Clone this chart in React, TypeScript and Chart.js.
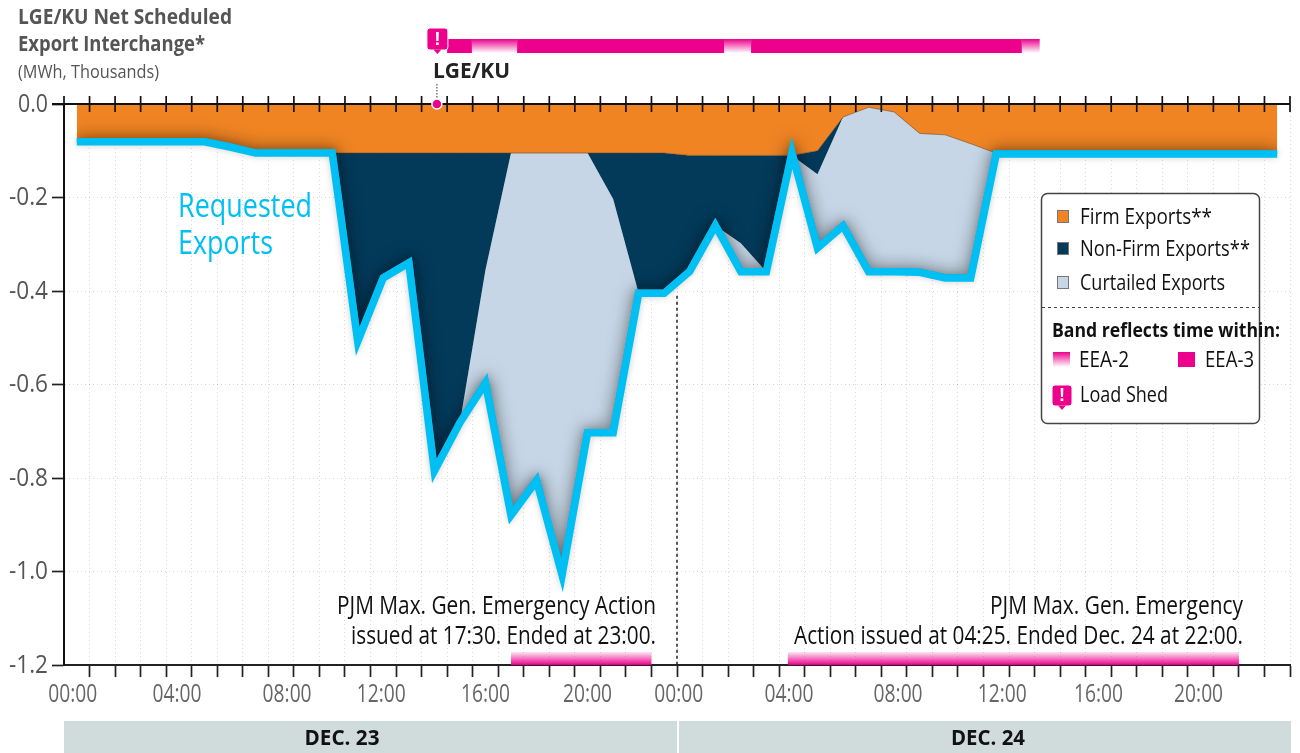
import React, { useEffect, useRef } from "react";
import { Chart, registerables } from "chart.js";

Chart.register(...registerables);

const FONT = '"Open Sans", "Noto Sans", sans-serif';

const hours = [
  "00:00","01:00","02:00","03:00","04:00","05:00","06:00","07:00","08:00","09:00","10:00","11:00",
  "12:00","13:00","14:00","15:00","16:00","17:00","18:00","19:00","20:00","21:00","22:00","23:00",
];
const categories = [...hours, ...hours];

const requestedExports = [
  -0.081,-0.081,-0.081,-0.081,-0.081,-0.081,-0.092,-0.105,-0.105,-0.105,-0.105,-0.508,
  -0.372,-0.34,-0.785,-0.682,-0.597,-0.88,-0.806,-1.008,-0.703,-0.703,-0.405,-0.405,
  -0.358,-0.26,-0.359,-0.359,-0.105,-0.308,-0.261,-0.359,-0.359,-0.36,-0.372,-0.372,
  -0.107,-0.107,-0.107,-0.107,-0.107,-0.107,-0.107,-0.107,-0.107,-0.107,-0.107,-0.107,
];
const firmExports = [
  -0.081,-0.081,-0.081,-0.081,-0.081,-0.081,-0.092,-0.105,-0.105,-0.105,-0.105,-0.105,
  -0.105,-0.105,-0.105,-0.105,-0.105,-0.105,-0.105,-0.105,-0.105,-0.105,-0.105,-0.105,
  -0.11,-0.11,-0.11,-0.11,-0.11,-0.1,-0.028,-0.007,-0.017,-0.063,-0.066,-0.085,
  -0.105,-0.105,-0.105,-0.105,-0.105,-0.105,-0.105,-0.105,-0.105,-0.105,-0.105,-0.105,
];
const nonFirmExports = [
  0,0,0,0,0,0,0,0,0,0,0,-0.403,
  -0.267,-0.235,-0.68,-0.577,-0.25,0,0,0,0,-0.098,-0.3,-0.3,
  -0.248,-0.15,-0.188,-0.249,0,-0.05,0,0,0,0,0,0,
  0,0,0,0,0,0,0,0,0,0,0,0,
];
const curtailedExports = [
  0,0,0,0,0,0,0,0,0,0,0,0,
  0,0,0,0,-0.242,-0.775,-0.701,-0.903,-0.598,-0.5,0,0,
  0,0,-0.061,0,0,-0.158,-0.233,-0.352,-0.342,-0.297,-0.306,-0.287,
  0,0,0,0,0,0,0,0,0,0,0,0,
];

// Hours since 00:00 Dec. 23 on the band / marker time line
const eea3Bands = [[15.0, 15.97], [17.74, 25.84], [26.9, 37.5]];
const eea2Bands = [[15.97, 17.74], [25.84, 26.9], [37.5, 38.2]];
const pjmBands = [[17.5, 23], [28.34, 46]];
const loadShedHour = 14.6;

const ORANGE = "#f08423";
const NAVY = "#033a5a";
const CURTAILED = "rgba(190,208,226,0.88)";
const BLUE = "#00bff3";
const PINK = "#ec008c";

const nudges: Record<number, number> = { 0: -4, 4: -2, 8: 6, 12: -2, 16: 0, 20: 0, 24: -11, 28: -3, 32: 4, 36: 6, 40: 0, 44: -2 };

function text(ctx: any, s: string, x: number, y: number, font: string, color: string, width: number, align: any = "left") {
  ctx.save();
  ctx.font = font;
  ctx.fillStyle = color;
  ctx.textAlign = align;
  ctx.textBaseline = "middle";
  const k = width / ctx.measureText(s).width;
  ctx.translate(x, y + 1.5);
  ctx.scale(k, 1);
  ctx.fillText(s, 0, 0);
  ctx.restore();
}

function shedIcon(ctx: any, x: number, y: number, w: number, h: number) {
  ctx.save();
  ctx.fillStyle = PINK;
  ctx.strokeStyle = "#fff";
  ctx.lineWidth = 1;
  ctx.beginPath();
  ctx.roundRect(x, y, w, h - 4, 3);
  ctx.fill();
  ctx.stroke();
  ctx.beginPath();
  ctx.moveTo(x + w / 2 - 4, y + h - 4.5);
  ctx.lineTo(x + w / 2, y + h);
  ctx.lineTo(x + w / 2 + 4, y + h - 4.5);
  ctx.closePath();
  ctx.fill();
  ctx.restore();
  ctx.save();
  ctx.font = `900 ${h - 7}px "Liberation Sans", sans-serif`;
  ctx.fillStyle = "#fff";
  ctx.textAlign = "center";
  ctx.textBaseline = "middle";
  ctx.fillText("!", x + w / 2, y + (h - 4) / 2 + 0.5);
  ctx.restore();
}

const shadowPlugin = {
  id: "shadow",
  beforeDatasetDraw(chart: any, args: any) {
    if (args.index !== 3) return;
    const { ctx, chartArea } = chart;
    const pts = chart.getDatasetMeta(3).data;
    ctx.save();
    ctx.beginPath();
    ctx.moveTo(pts[0].x, chartArea.top);
    pts.forEach((p: any) => ctx.lineTo(p.x, p.y));
    ctx.lineTo(pts[pts.length - 1].x, chartArea.top);
    ctx.closePath();
    ctx.clip();
    ctx.shadowColor = "rgba(0,0,0,0.6)";
    ctx.shadowBlur = 17;
    ctx.strokeStyle = BLUE;
    ctx.lineWidth = 7.5;
    ctx.lineJoin = "miter";
    ctx.beginPath();
    pts.forEach((p: any, i: number) => (i ? ctx.lineTo(p.x, p.y) : ctx.moveTo(p.x, p.y)));
    ctx.stroke();
    ctx.restore();
    ctx.save();
    ctx.shadowColor = "rgba(0,0,0,0.2)";
    ctx.shadowBlur = 7;
  },
  afterDatasetDraw(chart: any, args: any) {
    if (args.index === 3) chart.ctx.restore();
  },
};

const overlayPlugin = {
  id: "overlay",
  afterDatasetsDraw(chart: any) {
    const { ctx, scales } = chart;
    const xs = scales.x;
    const ys = scales.y;
    const hx = (h: number) => xs.getPixelForValue(h - 0.5);
    const top = ys.getPixelForValue(0);
    const bottom = ys.getPixelForValue(-1.2);

    ctx.save();
    // midnight divider
    ctx.strokeStyle = "#222";
    ctx.lineWidth = 1.5;
    ctx.setLineDash([3, 3]);
    ctx.beginPath();
    ctx.moveTo(hx(24), ys.getPixelForValue(-0.41));
    ctx.lineTo(hx(24), bottom);
    ctx.stroke();
    ctx.setLineDash([]);

    // zero line with ticks
    ctx.strokeStyle = "#111";
    ctx.lineWidth = 2;
    ctx.beginPath();
    ctx.moveTo(xs.left - 12, top);
    ctx.lineTo(xs.right, top);
    ctx.stroke();
    ctx.lineWidth = 1.7;
    for (let h = 0; h <= categories.length; h++) {
      ctx.beginPath();
      ctx.moveTo(hx(h), top - 8);
      ctx.lineTo(hx(h), top + 8);
      ctx.stroke();
    }

    // EEA bands on top
    ctx.fillStyle = PINK;
    eea3Bands.forEach(([a, b]) => ctx.fillRect(hx(a), 39, hx(b) - hx(a), 14));
    const g1 = ctx.createLinearGradient(0, 39, 0, 53);
    g1.addColorStop(0, PINK);
    g1.addColorStop(1, "rgba(236,0,140,0)");
    ctx.fillStyle = g1;
    eea2Bands.forEach(([a, b]) => ctx.fillRect(hx(a), 39, hx(b) - hx(a), 14));

    // PJM bands at the bottom
    const g2 = ctx.createLinearGradient(0, bottom - 13, 0, bottom);
    g2.addColorStop(0, "rgba(236,0,140,0.1)");
    g2.addColorStop(1, PINK);
    ctx.fillStyle = g2;
    pjmBands.forEach(([a, b]) => ctx.fillRect(hx(a), bottom - 13, hx(b) - hx(a), 13));

    // LGE/KU marker
    const mx = hx(loadShedHour);
    ctx.strokeStyle = "#333";
    ctx.lineWidth = 1;
    ctx.setLineDash([1.5, 1.5]);
    ctx.beginPath();
    ctx.moveTo(mx, 84);
    ctx.lineTo(mx, top);
    ctx.stroke();
    ctx.setLineDash([]);
    ctx.fillStyle = PINK;
    ctx.strokeStyle = "#fff";
    ctx.lineWidth = 1.5;
    ctx.beginPath();
    ctx.arc(mx, top, 5, 0, Math.PI * 2);
    ctx.fill();
    ctx.stroke();
    shedIcon(ctx, mx - 10, 28, 21, 26);
    text(ctx, "LGE/KU", 433, 71, `bold 21px ${FONT}`, "#222", 77);

    // y tick labels
    ys.ticks.forEach((t: any) => {
      const w = t.label.startsWith("-") ? 39 : 30;
      text(ctx, t.label, 48, ys.getPixelForValue(t.value) - 1, `26px ${FONT}`, "#555", w, "right");
    });

    // x tick labels
    xs.ticks.forEach((_: any, i: number) => {
      if (i % 4 === 0) {
        text(ctx, categories[i], xs.getPixelForValue(i) + nudges[i], 693, `26px ${FONT}`, "#666", 49, "center");
      }
    });

    // day bars
    ctx.fillStyle = "#d0dbdb";
    ctx.fillRect(hx(0), 721, hx(24) - hx(0), 32);
    ctx.fillRect(hx(24) + 2, 721, hx(48) - hx(24) - 1, 32);
    text(ctx, "DEC. 23", 342, 738, `bold 21px ${FONT}`, "#111", 75, "center");
    text(ctx, "DEC. 24", 988, 738, `bold 21px ${FONT}`, "#111", 74, "center");

    // title
    text(ctx, "LGE/KU Net Scheduled", 18, 17, `bold 21px ${FONT}`, "#555", 214);
    text(ctx, "Export Interchange*", 18, 44, `bold 21px ${FONT}`, "#555", 187);
    text(ctx, "(MWh, Thousands)", 18, 71, `18px ${FONT}`, "#555", 141);

    // series callout
    text(ctx, "Requested", 178, 206, `32px ${FONT}`, BLUE, 134);
    text(ctx, "Exports", 178, 243, `32px ${FONT}`, BLUE, 95);

    // PJM annotations
    text(ctx, "PJM Max. Gen. Emergency Action", 656, 605, `25px ${FONT}`, "#111", 319, "right");
    text(ctx, "issued at 17:30. Ended at 23:00.", 656, 635, `25px ${FONT}`, "#111", 305, "right");
    text(ctx, "PJM Max. Gen. Emergency", 1243, 605, `25px ${FONT}`, "#111", 253, "right");
    text(ctx, "Action issued at 04:25. Ended Dec. 24 at 22:00.", 1243, 635, `25px ${FONT}`, "#111", 449, "right");

    // legend box
    ctx.fillStyle = "#fff";
    ctx.strokeStyle = "#444";
    ctx.lineWidth = 1.5;
    ctx.beginPath();
    ctx.roundRect(1041.5, 193.5, 218, 230, 6);
    ctx.fill();
    ctx.stroke();
    const swatches: [string, string, number, number][] = [
      [ORANGE, "Firm Exports**", 217, 132],
      [NAVY, "Non-Firm Exports**", 249, 170],
      ["#c6d6e6", "Curtailed Exports", 283, 145],
    ];
    swatches.forEach(([c, label, y, w]) => {
      ctx.fillStyle = c;
      ctx.strokeStyle = "#777";
      ctx.lineWidth = 1;
      ctx.fillRect(1057.5, y - 6.5, 11, 12);
      ctx.strokeRect(1057.5, y - 6.5, 11, 12);
      text(ctx, label, 1080, y, `21px ${FONT}`, "#111", w);
    });
    ctx.strokeStyle = "#444";
    ctx.lineWidth = 1;
    ctx.setLineDash([3, 3]);
    ctx.beginPath();
    ctx.moveTo(1042, 307.5);
    ctx.lineTo(1259, 307.5);
    ctx.stroke();
    ctx.setLineDash([]);
    text(ctx, "Band reflects time within:", 1052, 330, `bold 20px ${FONT}`, "#111", 228);
    const g3 = ctx.createLinearGradient(0, 352, 0, 367);
    g3.addColorStop(0, PINK);
    g3.addColorStop(1, "rgba(236,0,140,0)");
    ctx.fillStyle = g3;
    ctx.fillRect(1053, 352, 17, 15);
    text(ctx, "EEA-2", 1079, 360, `21px ${FONT}`, "#111", 50);
    ctx.fillStyle = PINK;
    ctx.fillRect(1178, 352, 17, 15);
    text(ctx, "EEA-3", 1205, 360, `21px ${FONT}`, "#111", 49);
    shedIcon(ctx, 1052, 385, 20, 25);
    text(ctx, "Load Shed", 1080, 395, `21px ${FONT}`, "#111", 88);
    ctx.restore();
  },
};

export default function App() {
  const ref = useRef<HTMLCanvasElement>(null);
  useEffect(() => {
    const chart = new Chart(ref.current!, {
      type: "line",
      data: {
        labels: categories,
        datasets: [
          { label: "Firm Exports", data: firmExports, stack: "ex", order: 1, fill: "origin", backgroundColor: ORANGE, borderColor: "rgba(90,60,30,0.55)", borderWidth: 1, pointRadius: 0, tension: 0 },
          { label: "Non-Firm Exports", data: nonFirmExports, stack: "ex", order: 2, fill: "-1", backgroundColor: NAVY, borderWidth: 0, pointRadius: 0, tension: 0 },
          { label: "Curtailed Exports", data: curtailedExports, stack: "ex", order: 3, fill: "-1", backgroundColor: CURTAILED, borderWidth: 0, pointRadius: 0, tension: 0 },
          { label: "Requested Exports", data: requestedExports, stack: "req", order: 0, fill: false, borderColor: BLUE, borderWidth: 7.5, borderJoinStyle: "miter", borderCapStyle: "butt", pointRadius: 0, tension: 0, clip: false },
        ],
      } as any,
      options: {
        responsive: false,
        animation: false,
        events: [],
        layout: { padding: { top: 104, right: 10, left: 0, bottom: 0 } },
        plugins: { legend: { display: false }, tooltip: { enabled: false } },
        scales: {
          x: {
            type: "category",
            offset: true,
            grid: {
              offset: true,
              color: "rgba(0,0,0,0.15)",
              drawTicks: true,
              tickLength: 12,
              tickColor: (c: any) => (c.index === 0 ? "rgba(0,0,0,0)" : "#222"),
              tickWidth: 1.7,
              tickBorderDash: [],
            },
            border: { color: "#222", width: 2, dash: [1, 3] },
            ticks: { display: false, autoSkip: false, maxRotation: 0 },
            afterFit: (s: any) => { s.height = 88; s.paddingLeft = 0; s.paddingRight = 0; },
          },
          y: {
            stacked: true,
            min: -1.2,
            max: 0,
            grid: { color: "rgba(0,0,0,0.15)", tickLength: 12, tickColor: "#222", tickWidth: 1.7, tickBorderDash: [] },
            border: { color: "#111", width: 2, dash: [1, 3] },
            ticks: {
              display: false,
              stepSize: 0.2,
              callback: (v: any) => Number(v).toFixed(1).replace("-0.0", "0.0"),
            },
            afterFit: (s: any) => { s.width = 64; },
          },
        },
      } as any,
      plugins: [shadowPlugin, overlayPlugin],
    });
    return () => chart.destroy();
  }, []);
  return <canvas ref={ref} width={1300} height={753} style={{ position: "absolute", left: 0, top: 0, display: "block" }} />;
}
